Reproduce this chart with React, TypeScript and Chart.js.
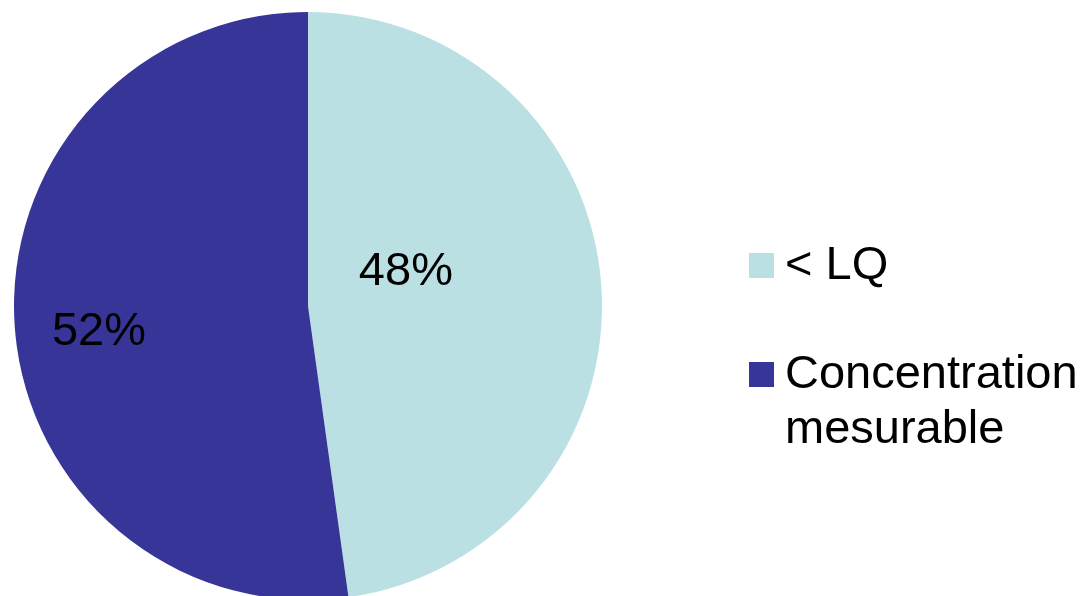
import React, { useEffect, useRef } from "react";
import { Chart, registerables } from "chart.js";

Chart.register(...registerables);

const categories = ["< LQ", "Concentration mesurable"];
const legendLines = [["< LQ"], ["Concentration", "mesurable"]];
const values = [47.8, 52.2];
const percentLabels = ["48%", "52%"];
const colors = ["#BBE0E3", "#373597"];
// label anchor offsets as fraction of radius (dx, dy) from pie centre
const labelOffsets = [
  [0.333, -0.115],
  [-0.711, 0.089],
];

const FONT = '"Liberation Sans", Arial, Helvetica, sans-serif';

const labelPlugin = {
  id: "pctLabels",
  afterDatasetsDraw(chart: any) {
    const ctx = chart.ctx;
    const meta = chart.getDatasetMeta(0);
    ctx.save();
    ctx.font = `47px ${FONT}`;
    ctx.fillStyle = "#000000";
    ctx.textAlign = "center";
    ctx.textBaseline = "middle";
    meta.data.forEach((arc: any, i: number) => {
      const r = arc.outerRadius;
      const x = arc.x + labelOffsets[i][0] * r;
      const y = arc.y + labelOffsets[i][1] * r;
      ctx.fillText(percentLabels[i], x, y);
    });
    ctx.restore();
  },
};

export default function App() {
  const ref = useRef<HTMLCanvasElement | null>(null);
  useEffect(() => {
    if (!ref.current) return;
    const chart = new Chart(ref.current, {
      type: "pie",
      data: {
        labels: categories,
        datasets: [
          {
            data: values,
            backgroundColor: colors,
            borderWidth: 0,
          },
        ],
      },
      options: {
        animation: false,
        responsive: false,
        maintainAspectRatio: false,
        layout: { padding: { left: 14, top: 12, right: 486, bottom: 20 } },
        plugins: {
          legend: { display: false },
          tooltip: { enabled: false },
        },
      },
      plugins: [labelPlugin],
    });
    return () => chart.destroy();
  }, []);

  return (
    <div
      style={{
        position: "fixed",
        left: 0,
        top: 0,
        width: 1088,
        height: 596,
        overflow: "hidden",
        background: "#ffffff",
      }}
    >
      <canvas ref={ref} width={1088} height={620} style={{ position: "absolute", left: 0, top: 0, width: 1088, height: 620 }} />
      {legendLines.map((lines, i) => (
        <div key={i} style={{ position: "absolute", left: 749, top: i === 0 ? 235 : 344 }}>
          <div
            style={{
              position: "absolute",
              left: 0,
              top: 18,
              width: 25,
              height: 25,
              background: colors[i],
            }}
          />
          <div
            style={{
              position: "absolute",
              left: 36,
              top: 0,
              font: `47px ${FONT}`,
              lineHeight: "55px",
              color: "#000",
              whiteSpace: "nowrap",
            }}
          >
            {lines.map((l, j) => (
              <div key={j}>{l}</div>
            ))}
          </div>
        </div>
      ))}
    </div>
  );
}
